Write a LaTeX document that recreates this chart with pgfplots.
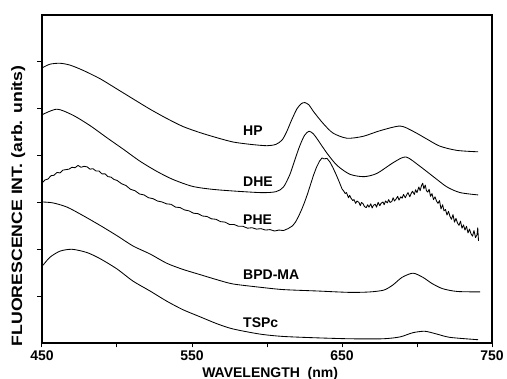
\documentclass[border=0pt]{standalone}
\usepackage{fontspec}
\setmainfont{Liberation Sans}
\usepackage{graphicx}
\usepackage{pgfplots}
\pgfplotsset{compat=1.18}
\newcommand{\lblfont}{\fontsize{14}{16}\selectfont\bfseries}
\begin{document}
\begin{tikzpicture}
\path[use as bounding box] (-42pt,-36pt) rectangle (465pt,343pt);
\begin{axis}[
  scale only axis, width=450pt, height=328pt,
  xmin=450, xmax=750, ymin=0, ymax=7,
  xtick={450,550,650,750}, minor xtick={500,600,700},
  ytick={1,2,3,4,5,6}, yticklabels={},
  tick align=outside, xtick pos=bottom, ytick pos=left,
  major tick length=4.5pt, minor tick length=4.5pt,
  axis line style={line width=1.1pt},
  every tick/.style={black, line width=1pt},
  tick label style={font=\lblfont},
  /pgf/number format/assume math mode=true,
  /pgf/number format/set thousands separator={},
  xlabel={WAVELENGTH\hspace{0.55em}(nm)},
  xlabel style={font=\lblfont, at={(axis description cs:0.507,0)}, anchor=center, yshift=-30.5pt},
  ylabel={\scalebox{1.18}[1]{FLUORESCENCE INT. (arb. units)}},
  ylabel style={font=\fontsize{15}{17}\selectfont\bfseries, at={(axis description cs:-0.053,0.418)}, anchor=center},
  crv/.style={black, line width=0.85pt, mark=none, line join=round},
]
% HP
\addplot[crv, smooth, tension=0.45] coordinates {
(450,5.87)(455.3,5.95)(462,5.97)(468.7,5.93)(477.3,5.82)(488.7,5.64)(500,5.42)(510.7,5.21)(522,4.99)(533.3,4.79)(544,4.62)(555.3,4.49)(566.7,4.38)(577.3,4.29)(588.7,4.24)(600,4.21)(606,4.24)(610,4.33)(613,4.50)(616.3,4.75)(620,5.00)(623,5.11)(625.3,5.13)(628,5.08)(631,4.94)(637.3,4.69)(644,4.48)(653.3,4.37)(664,4.41)(675.3,4.53)(688.7,4.63)(697.3,4.52)(706.7,4.35)(715.3,4.20)(726.7,4.11)(740.7,4.08)
};
% DHE
\addplot[crv, smooth, tension=0.45] coordinates {
(450,4.87)(460,4.99)(470.7,4.86)(482,4.64)(493.3,4.38)(504,4.14)(515.3,3.88)(526.7,3.66)(537.3,3.49)(550.7,3.34)(566.7,3.27)(595.3,3.21)(606,3.23)(611,3.33)(615.3,3.60)(619,3.95)(622,4.22)(625,4.43)(628,4.52)(631,4.46)(634,4.33)(640,4.05)(646.7,3.79)(655.3,3.60)(664.7,3.55)(673.3,3.62)(684.7,3.86)(692.7,3.97)(702,3.77)(711.3,3.54)(720,3.33)(728.7,3.21)(740.7,3.16)
};
% PHE
\addplot[crv] coordinates {
(450,3.41)(452,3.48)(454,3.50)(456,3.57)(458,3.58)(460,3.64)(462,3.63)(464,3.69)(466,3.70)(468,3.71)(470,3.75)(472,3.74)(474,3.79)(476,3.75)(478,3.77)(480,3.76)(482,3.71)(484,3.72)(486,3.67)(488,3.67)(490,3.61)(492,3.61)(494,3.55)(496,3.54)(498,3.49)(500,3.47)(503,3.40)(506,3.36)(509,3.28)(512,3.25)(515,3.18)(518,3.16)(521,3.10)(524,3.08)(527,3.03)(530,3.01)(533,2.97)(536,2.96)(539,2.90)(542,2.89)(545,2.84)(548,2.82)(551,2.77)(554,2.76)(557,2.71)(560,2.70)(563,2.65)(566,2.64)(569,2.59)(572,2.58)(575,2.53)(578,2.53)(581,2.49)(584,2.49)(587,2.45)(590,2.46)(593,2.43)(596,2.44)(599,2.41)(602,2.42)(605,2.39)(608,2.41)(611,2.40)(614,2.44)(617,2.50)(619,2.58)(621,2.70)(623,2.84)(625,3.00)(627,3.18)(629,3.38)(631,3.58)(633,3.75)(635,3.88)(636.7,3.95)(638,3.93)(640,3.94)(642,3.86)(644,3.74)(646,3.60)(648,3.45)(650,3.29)
(651.2,3.24)(652.1,3.19)(653,3.21)(654.3,3.10)(655.1,3.15)(656,3.09)(657.2,3.04)(658,3.06)(659.1,2.98)(660,3.03)(661.3,3.00)(662.2,2.93)(663,3.00)(664.1,2.97)(665,2.91)(666.2,2.89)(667.1,2.95)(668,2.90)(669.2,2.97)(670.1,2.88)(671,2.94)(672.2,2.96)(673,2.90)(674.1,3.00)(675.2,2.93)(676,2.98)(677.3,3.01)(678.1,2.95)(679,3.03)(680.2,2.99)(681.1,3.06)(682,3.00)(683.2,3.02)(684.1,3.10)(685,3.03)(686.2,3.08)(687.1,3.13)(688,3.05)(689.2,3.12)(690.1,3.09)(691,3.17)(692.2,3.10)(693.1,3.16)(694,3.21)(695.2,3.12)(696.1,3.19)(697,3.24)(698.2,3.17)(699.1,3.27)(700,3.21)(701.2,3.33)(702.1,3.25)(703,3.36)(703.8,3.41)(704.6,3.29)(705.5,3.37)(706.3,3.25)(707.2,3.22)(708.1,3.28)(709,3.13)(710,3.19)(711,3.06)(712,3.12)(713,3.03)(714,2.98)(715,3.04)(716,2.86)(717.1,2.95)(718,2.82)(719,2.85)(720,2.73)(721,2.81)(722,2.70)(723,2.64)(724,2.74)(725,2.58)(726,2.66)(727,2.56)(728,2.51)(729,2.60)(730,2.45)(731,2.52)(732,2.41)(733,2.49)(734,2.35)(735,2.43)(736,2.33)(737,2.28)(738,2.40)(739,2.25)(740,2.31)(740.5,2.46)(741,2.18)
};
% BPD-MA
\addplot[crv, smooth, tension=0.45] coordinates {
(450,3.01)(457.3,2.99)(466.7,2.90)(477.3,2.72)(488.7,2.51)(500,2.29)(510.7,2.07)(522,1.90)(533.3,1.70)(544,1.57)(555.3,1.46)(566.7,1.35)(577.3,1.26)(595.3,1.19)(610.7,1.14)(633.3,1.11)(655.3,1.08)(668.7,1.09)(678,1.13)(684,1.24)(690,1.40)(697.3,1.49)(704,1.40)(710,1.27)(717,1.16)(726.7,1.10)(742,1.09)
};
% TSPc
\addplot[crv, smooth, tension=0.45] coordinates {
(450.7,1.66)(455.3,1.83)(462,1.96)(470,2.00)(480,1.93)(488.7,1.80)(500,1.58)(510.7,1.32)(522,1.11)(533.3,0.89)(544,0.71)(555.3,0.56)(566.7,0.41)(577.3,0.30)(595.3,0.19)(610.7,0.14)(633.3,0.11)(655.3,0.09)(677.3,0.09)(688.7,0.13)(697.3,0.22)(705.3,0.25)(713.3,0.19)(722,0.12)(740.7,0.07)
};
\node[anchor=west, font=\lblfont, inner sep=0pt] at (axis cs:584,4.54) {HP};
\node[anchor=west, font=\lblfont, inner sep=0pt] at (axis cs:584,3.45) {DHE};
\node[anchor=west, font=\lblfont, inner sep=0pt] at (axis cs:584,2.64) {PHE};
\node[anchor=west, font=\lblfont, inner sep=0pt] at (axis cs:584,1.45) {BPD-MA};
\node[anchor=west, font=\lblfont, inner sep=0pt] at (axis cs:584,0.43) {TSPc};
\end{axis}
\end{tikzpicture}
\end{document}
